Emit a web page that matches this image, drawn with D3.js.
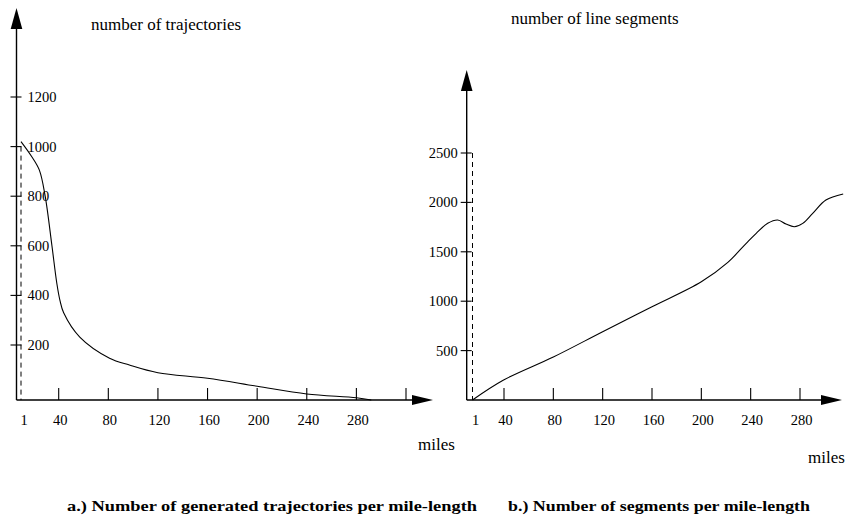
<!DOCTYPE html>
<html>
<head>
<meta charset="utf-8">
<script src="https://cdn.jsdelivr.net/npm/d3@7"></script>
<style>
  body { margin: 0; background: #fff; }
</style>
</head>
<body>
<svg id="chart" width="846" height="517"></svg>
<script>
// panel a: trajectories per mile-length
const trajMiles = [1, 12, 20, 26, 33, 38, 41, 44, 57, 81, 97, 120, 160, 200, 240, 280, 292];
const trajCount = [1020, 960, 905, 800, 600, 450, 380, 330, 232, 152, 127, 99, 79, 50, 22, 8, 0];
const trajYTicks = [200, 400, 600, 800, 1000, 1200];
const trajXTicks = [40, 80, 120, 160, 200, 240, 280, 320];
const trajXLabels = [1, 40, 80, 120, 160, 200, 240, 280];

// panel b: line segments per mile-length
const segMiles = [1, 39.5, 80, 120, 160, 200, 221.5, 236.4, 244.5, 253.8, 261.9, 268.6, 275.4, 282.2, 290.3, 301, 315];
const segCount = [0, 202, 435, 691, 944, 1197, 1393, 1586, 1687, 1788, 1822, 1781, 1754, 1788, 1889, 2024, 2085];
const segYTicks = [500, 1000, 1500, 2000, 2500];
const segXTicks = [40, 80, 120, 160, 200, 240, 280];
const segXLabels = [1, 40, 80, 120, 160, 200, 240, 280];

const serif = "'Liberation Serif', 'DejaVu Serif', serif";
const svg = d3.select("#chart").attr("font-family", serif);

function arrow(g, tipX, tipY, dir, len, half) {
    let pts;
    if (dir === "up") pts = [[tipX, tipY], [tipX - half, tipY + len], [tipX + half, tipY + len]];
    else pts = [[tipX, tipY], [tipX - len, tipY - half], [tipX - len, tipY + half]];
    g.append("path").attr("d", "M" + pts.join("L") + "Z").attr("fill", "#000");
}

function drawPanel(p) {
    const g = svg.append("g");
    const x = d3.scaleLinear().domain(p.xDomain).range(p.xRange);
    const y = d3.scaleLinear().domain(p.yDomain).range(p.yRange);
    const x0 = p.axisX, y0 = y(0);

    // axes
    g.append("line").attr("x1", x0).attr("x2", x0).attr("y1", p.yTop + 10).attr("y2", y0)
        .attr("stroke", "#000").attr("stroke-width", 1.4);
    arrow(g, x0, p.yTop, "up", 21, 5.8);
    g.append("line").attr("x1", x0).attr("x2", p.xEnd - 10).attr("y1", y0).attr("y2", y0)
        .attr("stroke", "#000").attr("stroke-width", 1.4);
    arrow(g, p.xEnd, y0, "right", 21, 5);

    // y ticks (crossing the axis)
    g.selectAll(".yt").data(p.yTicks).join("line")
        .attr("x1", x0 - 6).attr("x2", x0 + 5)
        .attr("y1", d => y(d)).attr("y2", d => y(d))
        .attr("stroke", "#000").attr("stroke-width", 1.1);
    g.selectAll(".yl").data(p.yTicks).join("text")
        .attr("x", p.yLabelRight ? x0 - 9 : x0 + 11)
        .attr("y", d => y(d) + 5)
        .attr("text-anchor", p.yLabelRight ? "end" : "start")
        .attr("font-size", 14.5)
        .text(d => d);

    // x ticks (upwards)
    g.selectAll(".xt").data(p.xTicks).join("line")
        .attr("x1", d => x(d)).attr("x2", d => x(d))
        .attr("y1", y0 - 12).attr("y2", y0)
        .attr("stroke", "#000").attr("stroke-width", 1.1);
    g.selectAll(".xl").data(p.xLabels).join("text")
        .attr("x", d => x(d) + (d === 1 ? 3 : 1.5))
        .attr("y", y0 + 25)
        .attr("text-anchor", "middle")
        .attr("font-size", 14.5)
        .text(d => d);

    // dashed marker at mile 1
    g.append("line").attr("x1", x(1)).attr("x2", x(1))
        .attr("y1", y(p.dashTop)).attr("y2", y0)
        .attr("stroke", "#000").attr("stroke-width", 1).attr("stroke-dasharray", "5,4");

    // curve
    const line = d3.line().x(d => x(d[0])).y(d => y(d[1])).curve(d3.curveCatmullRom.alpha(0.5));
    g.append("path").datum(d3.zip(p.miles, p.counts))
        .attr("d", line).attr("fill", "none").attr("stroke", "#000").attr("stroke-width", 1.1);

    // labels
    g.append("text").attr("x", p.titleX).attr("y", p.titleY).attr("font-size", 17).text(p.title);
    g.append("text").attr("x", p.milesX).attr("y", p.milesY).attr("font-size", 17).text("miles");
    g.append("text").attr("x", p.capX).attr("y", 511).attr("font-size", 14)
        .attr("font-weight", "bold").attr("textLength", p.capLen).attr("lengthAdjust", "spacingAndGlyphs")
        .text(p.caption);
}

drawPanel({
    xDomain: [1, 40, 320], xRange: [21, 58.7, 406],
    yDomain: [0, 200, 1200], yRange: [400, 345, 97],
    axisX: 16.5, yTop: 8, xEnd: 433,
    yTicks: trajYTicks, yLabelRight: false,
    xTicks: trajXTicks, xLabels: trajXLabels,
    dashTop: 1000,
    miles: trajMiles, counts: trajCount,
    title: "number of trajectories", titleX: 91, titleY: 30,
    milesX: 418, milesY: 450,
    caption: "a.) Number of generated trajectories per mile-length", capX: 67, capLen: 410
});

drawPanel({
    xDomain: [1, 40, 280], xRange: [472.5, 504, 800],
    yDomain: [0, 2500], yRange: [400, 153],
    axisX: 466.7, yTop: 70, xEnd: 842,
    yTicks: segYTicks, yLabelRight: true,
    xTicks: segXTicks, xLabels: segXLabels,
    dashTop: 2500,
    miles: segMiles, counts: segCount,
    title: "number of line segments", titleX: 511, titleY: 24,
    milesX: 808, milesY: 463,
    caption: "b.) Number of segments per mile-length", capX: 508, capLen: 302
});
</script>
</body>
</html>
